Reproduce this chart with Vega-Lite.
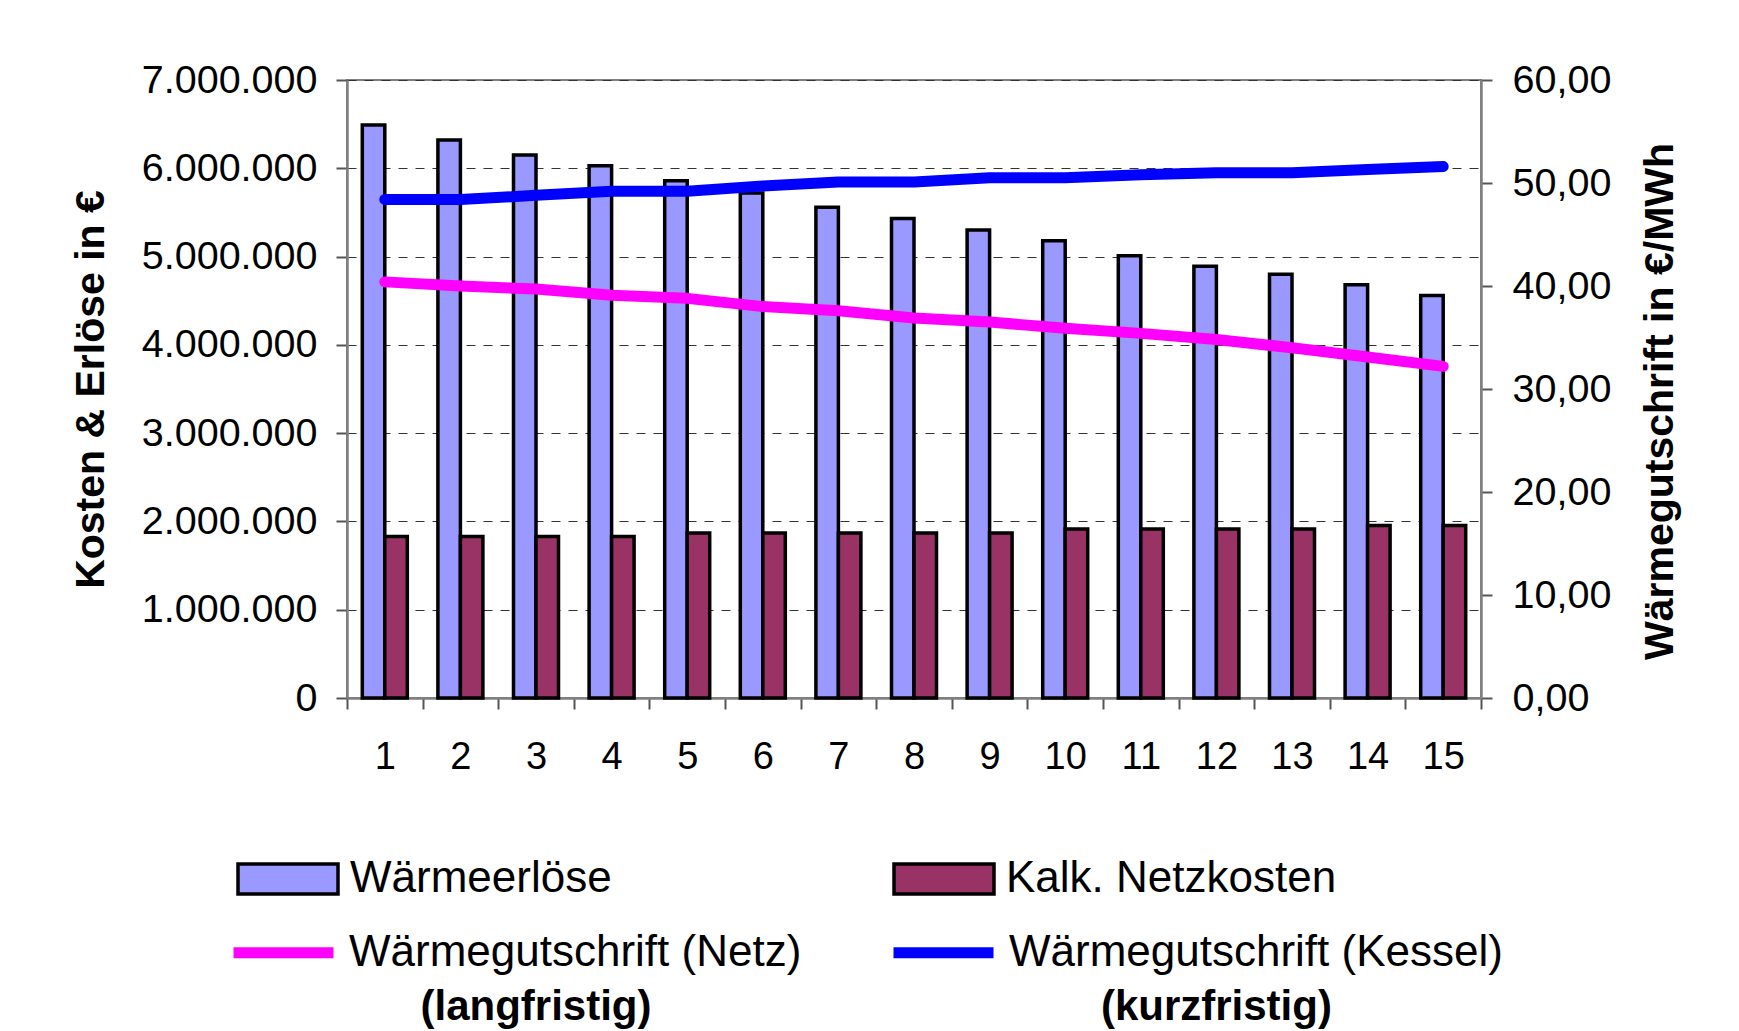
{
  "$schema": "https://vega.github.io/schema/vega-lite/v6.json",
  "width": 1134,
  "height": 618,
  "autosize": {"type": "none"},
  "padding": {"left": 347, "top": 80, "right": 258, "bottom": 333},
  "background": "#ffffff",
  "datasets": {
    "balken": [
      {"Jahr": 1, "Reihe": "Wärmeerlöse", "Wert": 6490000},
      {"Jahr": 2, "Reihe": "Wärmeerlöse", "Wert": 6320000},
      {"Jahr": 3, "Reihe": "Wärmeerlöse", "Wert": 6150000},
      {"Jahr": 4, "Reihe": "Wärmeerlöse", "Wert": 6030000},
      {"Jahr": 5, "Reihe": "Wärmeerlöse", "Wert": 5860000},
      {"Jahr": 6, "Reihe": "Wärmeerlöse", "Wert": 5720000},
      {"Jahr": 7, "Reihe": "Wärmeerlöse", "Wert": 5560000},
      {"Jahr": 8, "Reihe": "Wärmeerlöse", "Wert": 5430000},
      {"Jahr": 9, "Reihe": "Wärmeerlöse", "Wert": 5300000},
      {"Jahr": 10, "Reihe": "Wärmeerlöse", "Wert": 5180000},
      {"Jahr": 11, "Reihe": "Wärmeerlöse", "Wert": 5010000},
      {"Jahr": 12, "Reihe": "Wärmeerlöse", "Wert": 4890000},
      {"Jahr": 13, "Reihe": "Wärmeerlöse", "Wert": 4800000},
      {"Jahr": 14, "Reihe": "Wärmeerlöse", "Wert": 4680000},
      {"Jahr": 15, "Reihe": "Wärmeerlöse", "Wert": 4560000},
      {"Jahr": 1, "Reihe": "Kalk. Netzkosten", "Wert": 1830000},
      {"Jahr": 2, "Reihe": "Kalk. Netzkosten", "Wert": 1830000},
      {"Jahr": 3, "Reihe": "Kalk. Netzkosten", "Wert": 1830000},
      {"Jahr": 4, "Reihe": "Kalk. Netzkosten", "Wert": 1830000},
      {"Jahr": 5, "Reihe": "Kalk. Netzkosten", "Wert": 1870000},
      {"Jahr": 6, "Reihe": "Kalk. Netzkosten", "Wert": 1870000},
      {"Jahr": 7, "Reihe": "Kalk. Netzkosten", "Wert": 1870000},
      {"Jahr": 8, "Reihe": "Kalk. Netzkosten", "Wert": 1870000},
      {"Jahr": 9, "Reihe": "Kalk. Netzkosten", "Wert": 1870000},
      {"Jahr": 10, "Reihe": "Kalk. Netzkosten", "Wert": 1915000},
      {"Jahr": 11, "Reihe": "Kalk. Netzkosten", "Wert": 1915000},
      {"Jahr": 12, "Reihe": "Kalk. Netzkosten", "Wert": 1915000},
      {"Jahr": 13, "Reihe": "Kalk. Netzkosten", "Wert": 1915000},
      {"Jahr": 14, "Reihe": "Kalk. Netzkosten", "Wert": 1955000},
      {"Jahr": 15, "Reihe": "Kalk. Netzkosten", "Wert": 1955000}
    ],
    "linien": [
      {"Jahr": 1, "Reihe": "Wärmegutschrift (Netz)", "Wert": 40.4},
      {"Jahr": 2, "Reihe": "Wärmegutschrift (Netz)", "Wert": 40.0},
      {"Jahr": 3, "Reihe": "Wärmegutschrift (Netz)", "Wert": 39.7},
      {"Jahr": 4, "Reihe": "Wärmegutschrift (Netz)", "Wert": 39.1},
      {"Jahr": 5, "Reihe": "Wärmegutschrift (Netz)", "Wert": 38.8},
      {"Jahr": 6, "Reihe": "Wärmegutschrift (Netz)", "Wert": 38.0},
      {"Jahr": 7, "Reihe": "Wärmegutschrift (Netz)", "Wert": 37.6},
      {"Jahr": 8, "Reihe": "Wärmegutschrift (Netz)", "Wert": 36.9},
      {"Jahr": 9, "Reihe": "Wärmegutschrift (Netz)", "Wert": 36.5},
      {"Jahr": 10, "Reihe": "Wärmegutschrift (Netz)", "Wert": 35.9},
      {"Jahr": 11, "Reihe": "Wärmegutschrift (Netz)", "Wert": 35.4},
      {"Jahr": 12, "Reihe": "Wärmegutschrift (Netz)", "Wert": 34.8},
      {"Jahr": 13, "Reihe": "Wärmegutschrift (Netz)", "Wert": 34.0},
      {"Jahr": 14, "Reihe": "Wärmegutschrift (Netz)", "Wert": 33.1},
      {"Jahr": 15, "Reihe": "Wärmegutschrift (Netz)", "Wert": 32.2},
      {"Jahr": 1, "Reihe": "Wärmegutschrift (Kessel)", "Wert": 48.4},
      {"Jahr": 2, "Reihe": "Wärmegutschrift (Kessel)", "Wert": 48.4},
      {"Jahr": 3, "Reihe": "Wärmegutschrift (Kessel)", "Wert": 48.8},
      {"Jahr": 4, "Reihe": "Wärmegutschrift (Kessel)", "Wert": 49.2},
      {"Jahr": 5, "Reihe": "Wärmegutschrift (Kessel)", "Wert": 49.2},
      {"Jahr": 6, "Reihe": "Wärmegutschrift (Kessel)", "Wert": 49.7},
      {"Jahr": 7, "Reihe": "Wärmegutschrift (Kessel)", "Wert": 50.1},
      {"Jahr": 8, "Reihe": "Wärmegutschrift (Kessel)", "Wert": 50.1},
      {"Jahr": 9, "Reihe": "Wärmegutschrift (Kessel)", "Wert": 50.5},
      {"Jahr": 10, "Reihe": "Wärmegutschrift (Kessel)", "Wert": 50.5},
      {"Jahr": 11, "Reihe": "Wärmegutschrift (Kessel)", "Wert": 50.8},
      {"Jahr": 12, "Reihe": "Wärmegutschrift (Kessel)", "Wert": 51.0},
      {"Jahr": 13, "Reihe": "Wärmegutschrift (Kessel)", "Wert": 51.0},
      {"Jahr": 14, "Reihe": "Wärmegutschrift (Kessel)", "Wert": 51.3},
      {"Jahr": 15, "Reihe": "Wärmegutschrift (Kessel)", "Wert": 51.6}
    ],
    "hinweise": [
      {"Jahr": 3, "Text": "(langfristig)"},
      {"Jahr": 12, "Text": "(kurzfristig)"}
    ]
  },
  "layer": [
    {
      "data": {"name": "balken"},
      "mark": {"type": "bar", "stroke": "#000000", "strokeWidth": 3.5},
      "encoding": {
        "x": {
          "field": "Jahr", "type": "ordinal",
          "scale": {"paddingInner": 0, "paddingOuter": 0},
          "axis": {"title": null, "labelAngle": 0, "tickBand": "extent", "labelPadding": 29, "labelFontSize": 38}
        },
        "xOffset": {"field": "Reihe", "sort": ["Wärmeerlöse", "Kalk. Netzkosten"], "scale": {"paddingInner": 0, "paddingOuter": 0.68}},
        "y": {
          "field": "Wert", "type": "quantitative",
          "scale": {"domain": [0, 7000000], "nice": false},
          "axis": {
            "title": "Kosten & Erlöse in €",
            "values": [0, 1000000, 2000000, 3000000, 4000000, 5000000, 6000000, 7000000],
            "format": ",.0f",
            "grid": true, "gridDash": [9, 8], "gridColor": "#333333", "gridWidth": 1,
            "labelPadding": 19, "titlePadding": 35, "labelFontSize": 39.5
          }
        },
        "fill": {
          "field": "Reihe", "type": "nominal",
          "scale": {"domain": ["Wärmeerlöse", "Kalk. Netzkosten"], "range": ["#9999FF", "#993366"]},
          "legend": {
            "orient": "none", "legendX": -111, "legendY": 747,
            "direction": "horizontal", "columns": 2, "columnPadding": 275,
            "title": null, "padding": 0,
            "symbolType": "M-1,-0.3H1V0.3H-1Z", "symbolSize": 10000,
            "symbolStrokeColor": "#000000", "symbolStrokeWidth": 3.5, "symbolOpacity": 1,
            "labelFont": "Liberation Sans", "labelFontSize": 44, "labelColor": "#000000",
            "labelLimit": 800, "labelOffset": 10
          }
        }
      }
    },
    {
      "data": {"name": "linien"},
      "mark": {"type": "line", "strokeWidth": 11, "strokeCap": "round", "strokeJoin": "round"},
      "encoding": {
        "x": {"field": "Jahr", "type": "ordinal"},
        "y": {
          "field": "Wert", "type": "quantitative",
          "scale": {"domain": [0, 60], "nice": false},
          "axis": {
            "orient": "right",
            "title": "Wärmegutschrift in €/MWh",
            "values": [0, 10, 20, 30, 40, 50, 60],
            "format": ".2f",
            "grid": false,
            "labelPadding": 20, "titlePadding": 30, "labelFontSize": 39.5,
            "titleAngle": 270, "titleBaseline": "top", "titleY": 321
          }
        },
        "stroke": {
          "field": "Reihe", "type": "nominal",
          "scale": {"domain": ["Wärmegutschrift (Netz)", "Wärmegutschrift (Kessel)"], "range": ["#FF00FF", "#0000FF"]},
          "legend": {
            "orient": "none", "legendX": -119, "legendY": 817,
            "direction": "horizontal", "columns": 2, "columnPadding": 69,
            "title": null, "padding": 0,
            "symbolType": "stroke", "symbolSize": 10000, "symbolStrokeWidth": 11,
            "labelFont": "Liberation Sans", "labelFontSize": 44, "labelColor": "#000000",
            "labelLimit": 800, "labelOffset": 10
          }
        }
      }
    },
    {
      "data": {"name": "hinweise"},
      "mark": {"type": "text", "font": "Liberation Sans", "fontSize": 42, "fontWeight": "bold", "baseline": "middle", "align": "center", "color": "#000000"},
      "encoding": {
        "x": {"field": "Jahr", "type": "ordinal"},
        "y": {"datum": -3500000, "type": "quantitative", "scale": {"domain": [0, 7000000], "nice": false}, "axis": null},
        "text": {"field": "Text"}
      }
    }
  ],
  "resolve": {"scale": {"y": "independent"}},
  "config": {
    "locale": {"number": {"decimal": ",", "thousands": ".", "grouping": [3], "currency": ["", " €"]}},
    "view": {"stroke": "#808080", "strokeWidth": 2},
    "axis": {
      "labelFont": "Liberation Sans", "labelFontSize": 38, "labelColor": "#000000",
      "titleFont": "Liberation Sans", "titleFontSize": 41, "titleFontWeight": "bold", "titleColor": "#000000",
      "domainColor": "#808080", "domainWidth": 2.5,
      "tickColor": "#555555", "tickSize": 11, "tickWidth": 2
    }
  }
}
